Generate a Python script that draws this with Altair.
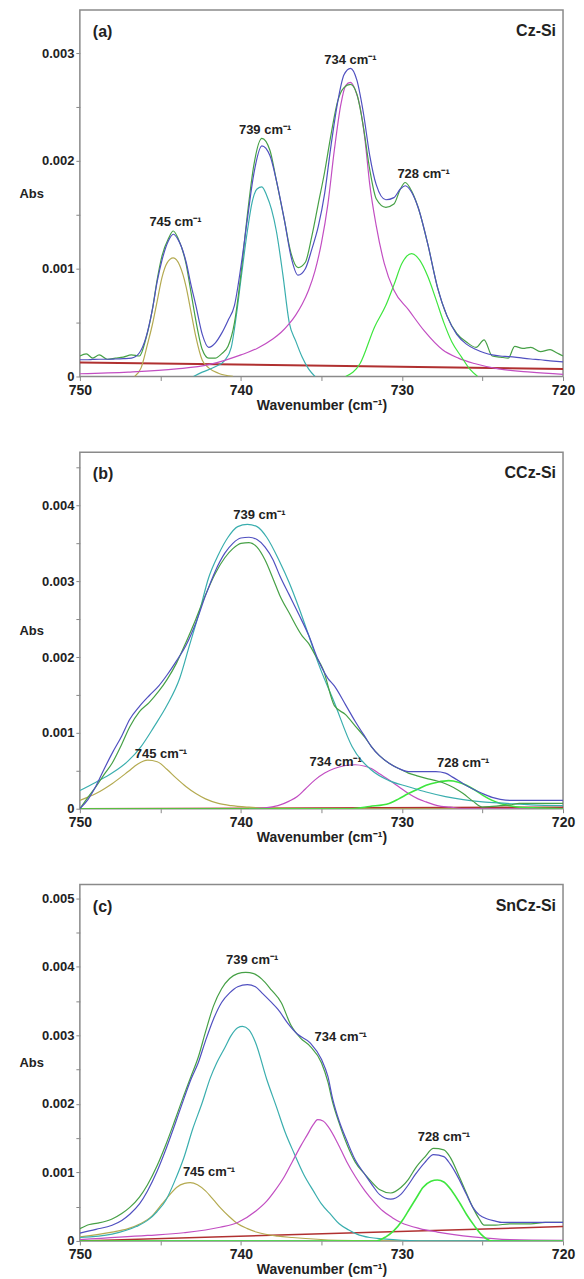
import altair as alt
import pandas as pd

FONT = "Liberation Sans"

# ---------------- Panel (a) Cz-Si ----------------
a_meas_wn = [750, 749.6, 749.2, 748.8, 748.3, 747.8, 747.3, 746.8, 746.3, 745.9, 745.5, 745.2, 744.9, 744.5, 744.2,
             743.9, 743.4, 743.1, 742.8, 742.4, 742.0, 741.6, 741.2, 740.8, 740.4, 740.0, 739.6, 739.2, 738.7, 738.2,
             737.8, 737.3, 736.9, 736.45, 736.0, 735.6, 735.2, 734.8, 734.4, 734.0, 733.6, 733.2, 732.8, 732.4, 732.0,
             731.6, 731.0, 730.5, 730.1, 729.8, 729.4, 729.0, 728.4, 727.8, 727.2, 726.6, 726.0, 725.4, 724.9, 724.4,
             723.9, 723.4, 723.0, 722.5, 722.0, 721.4, 720.8, 720.4, 720]
a_meas = [0.00019, 0.00021, 0.00017, 0.0002, 0.00016, 0.00017, 0.00018, 0.0002, 0.00019, 0.00035, 0.00062, 0.0009,
          0.00112, 0.00128, 0.00135, 0.00128, 0.00104, 0.00078, 0.00052, 0.00025, 0.00017, 0.00017, 0.00021, 0.00028,
          0.0005, 0.00095, 0.0015, 0.00196, 0.00221, 0.0021, 0.00182, 0.00145, 0.00115, 0.00101, 0.00106, 0.0013,
          0.0016, 0.0019, 0.00225, 0.00255, 0.00268, 0.00271, 0.00262, 0.00232, 0.00192, 0.00165, 0.00157, 0.0016,
          0.00174, 0.0018, 0.00172, 0.00157, 0.00123, 0.00083, 0.00056, 0.0004, 0.00032, 0.00027, 0.00034, 0.00019,
          0.00018, 0.00017, 0.00028, 0.00026, 0.00027, 0.00023, 0.00025, 0.00022, 0.00019]
a_fit = [0.000155, 0.000155, 0.000158, 0.00016, 0.00016, 0.000162, 0.000165, 0.00017, 0.00022, 0.00036, 0.00062,
         0.00088, 0.00108, 0.00126, 0.00132, 0.00127, 0.00106, 0.00085, 0.00066, 0.00039, 0.00027, 0.00031, 0.0004,
         0.00052, 0.00066, 0.00102, 0.00146, 0.00188, 0.00214, 0.00205, 0.00182, 0.00145, 0.00112, 0.00094, 0.001,
         0.00118, 0.00139, 0.0017, 0.00215, 0.00254, 0.0028, 0.00286, 0.00275, 0.00245, 0.00205, 0.00178, 0.00164,
         0.00166, 0.00174, 0.00177, 0.00171, 0.00157, 0.00123, 0.00083, 0.00056, 0.00039, 0.0003, 0.00025, 0.00022,
         0.0002, 0.00019, 0.000185, 0.00018, 0.00017, 0.000162, 0.000155, 0.000145, 0.00014, 0.000136]
a_p745_wn = [746.6, 746.2, 745.8, 745.5, 745.2, 744.9, 744.6, 744.2, 743.8, 743.4, 743.1, 742.8, 742.4, 742.0, 741.4, 740.5]
a_p745 = [0, 0.00008, 0.0003, 0.00048, 0.0007, 0.00092, 0.00105, 0.0011, 0.00103, 0.00083, 0.0006, 0.00037, 0.00015,
          0.00008, 0.00003, 0]
a_p739_wn = [742.95, 742.4, 741.6, 741.0, 740.6, 740.3, 740.0, 739.6, 739.3, 739.0, 738.7, 738.4, 738.1, 737.8, 737.4,
             737.0, 736.6, 736.2, 735.8, 735.4]
a_p739 = [0, 0.00004, 0.00009, 0.00015, 0.00027, 0.00055, 0.0009, 0.00135, 0.00162, 0.00174, 0.00176, 0.00168, 0.00155,
          0.00135, 0.00095, 0.0005, 0.00033, 0.00018, 0.00007, 0]
a_p734_wn = [750, 747, 744, 742, 741, 740, 739, 738, 737.5, 737, 736.6, 736.2, 735.8, 735.4, 735.0, 734.6, 734.2,
             733.8, 733.5, 733.2, 732.9, 732.6, 732.3, 732.0, 731.6, 731.1, 730.5, 729.6, 728.6, 727.5, 726.5, 725.5,
             724, 722, 720]
a_p734 = [0.000025, 0.00004, 0.00007, 0.00011, 0.00015, 0.0002, 0.00026, 0.00035, 0.00041, 0.00049, 0.00057, 0.00067,
          0.0008, 0.00098, 0.00124, 0.0016, 0.0021, 0.00252, 0.0027, 0.00273, 0.00266, 0.0025, 0.0022, 0.00178,
          0.0014, 0.00105, 0.0008, 0.00062, 0.00042, 0.00025, 0.00017, 0.00012, 0.00007, 0.00004, 0.00002]
a_p728_wn = [733.5, 732.6, 731.7, 731.0, 730.5, 730.0, 729.4, 728.9, 728.4, 727.9, 727.4, 726.9, 726.3, 725.8, 725.3]
a_p728 = [0, 0.00012, 0.00046, 0.00066, 0.00085, 0.00105, 0.00114, 0.00108, 0.00093, 0.00072, 0.0005, 0.00032,
          0.00018, 0.00007, 0]
a_base_wn = [750, 720]
a_base = [0.00013, 0.00007]
a_lab_wn = [744.06, 738.5, 733.2, 728.66]
a_lab_y = [0.00143, 0.00229, 0.002935, 0.00188]
a_lab_txt = ["745 cm\u207b\u00b9", "739 cm\u207b\u00b9", "734 cm\u207b\u00b9", "728 cm\u207b\u00b9"]

# ---------------- Panel (b) CCz-Si ----------------
b_meas_wn = [750, 749.5, 749.0, 748.5, 748.0, 747.4, 746.9, 746.3, 745.7, 745.1, 744.6, 744.0, 743.4, 742.8, 742.2,
             741.6, 741.0, 740.5, 740.0, 739.5, 739.0, 738.5, 738.0, 737.6, 737.0, 736.2, 735.8, 735.4, 734.9, 734.2,
             733.5, 732.9, 732.3, 731.9, 731.4, 730.8, 730.2, 729.6, 729.0, 728.5, 727.9, 727.3, 726.8, 726.2, 725.6,
             725.0, 724.4, 723.9, 723.3, 722.7, 722.0, 721.0, 720]
b_meas = [0.0, 0.00015, 0.00029, 0.00045, 0.0006, 0.00085, 0.00108, 0.00128, 0.0014, 0.00155, 0.0017, 0.00192, 0.0022,
          0.0025, 0.00282, 0.0031, 0.00331, 0.00343, 0.0035, 0.00351, 0.00345, 0.00328, 0.00303, 0.00282, 0.00258,
          0.00228, 0.00218, 0.00203, 0.00184, 0.00136, 0.00124, 0.00109, 0.00094, 0.00082, 0.0007, 0.0006, 0.00053,
          0.00047, 0.00043, 0.0004, 0.00037, 0.00033, 0.00028, 0.0002, 0.0001, 0.00002, 0.00003, 0.00004, 0.00005,
          0.00007, 0.00007, 0.00007, 0.00007]
b_fit_wn = [750, 749.5, 749.0, 748.5, 748.0, 747.4, 746.9, 746.3, 745.7, 745.1, 744.6, 744.0, 743.4, 742.8, 742.2,
            741.6, 741.0, 740.5, 740.0, 739.5, 739.0, 738.5, 738.0, 737.6, 737.0, 736.4, 735.8, 735.2, 734.6, 734.2,
            733.5, 732.9, 732.3, 731.9, 731.4, 730.8, 730.2, 729.6, 729.0, 728.5, 727.9, 727.3, 726.8, 726.2, 725.6,
            725.0, 724.4, 723.9, 723.3, 722.7, 722.0, 721.0, 720]
b_fit = [0.0, 0.00012, 0.0003, 0.00052, 0.00073, 0.00096, 0.00118, 0.00135, 0.00149, 0.00162, 0.00176, 0.00195,
         0.00216, 0.00245, 0.00281, 0.00313, 0.00337, 0.0035, 0.00357, 0.00358, 0.00355, 0.00345, 0.00328, 0.00308,
         0.00282, 0.00256, 0.00229, 0.00196, 0.00172, 0.00162, 0.00137, 0.00115, 0.00095, 0.00082, 0.0007, 0.0006,
         0.00053, 0.00049, 0.00049, 0.00049, 0.00049, 0.00047, 0.00041, 0.00033, 0.00026, 0.0002, 0.00015, 0.000124,
         0.00011, 0.00011, 0.00011, 0.00011, 0.00011]
b_p739_wn = [750, 749, 748, 747, 746.2, 745.4, 744.6, 743.8, 743.2, 742.6, 742.0, 741.4, 740.8, 740.2, 739.6, 739.0,
             738.4, 737.6, 737.0, 736.4, 735.8, 735.2, 734.2, 733.1, 731.9, 730.8, 729.6, 728.5, 727.3, 726.2, 725.0,
             723.5, 722, 720]
b_p739 = [0.00024, 0.00035, 0.00047, 0.00063, 0.00082, 0.00108, 0.00136, 0.00172, 0.00215, 0.00258, 0.00305, 0.00335,
          0.00358, 0.00372, 0.00375, 0.00372, 0.00358, 0.00326, 0.00298, 0.00265, 0.00229, 0.00192, 0.0014, 0.00082,
          0.00051, 0.00037, 0.00029, 0.00022, 0.00016, 0.00012, 0.00009, 0.00007, 0.00005, 0.00004]
b_p745_wn = [750, 749, 748, 747, 746.4, 745.8, 745.2, 744.6, 744.0, 743.4, 742.8, 742.2, 741.4, 740.6, 739.5, 738.5,
             736, 730, 720]
b_p745 = [0.00011, 0.0002, 0.00033, 0.00049, 0.00059, 0.00064, 0.00062, 0.00052, 0.0004, 0.00029, 0.0002, 0.00013,
          0.00007, 0.00004, 0.00002, 0.00001, 0.0, 0.0, 0.0]
b_p734_wn = [739.5, 738.5, 737.7, 737.0, 736.5, 736.0, 735.4, 734.8, 734.2, 733.5, 732.9, 732.3, 731.9, 731.4, 730.8,
             730.2, 729.6, 729.0, 728.5, 727.8, 727.0, 726.0, 723, 720]
b_p734 = [0, 0.00001, 0.00004, 0.0001, 0.00016, 0.00026, 0.00038, 0.00047, 0.00053, 0.00057, 0.00058, 0.00056,
          0.00053, 0.00046, 0.00038, 0.00029, 0.0002, 0.00013, 0.00009, 0.00004, 0.00002, 0.0, 0, 0]
b_p728_wn = [750, 740, 735, 733.1, 732, 730.8, 730.2, 729.6, 729.0, 728.5, 727.8, 727.1, 726.5, 726.0, 725.5, 725.0,
             724.4, 723.9, 723.3, 722.7, 721.5, 720]
b_p728 = [0, 0, 0, 0, 0.00003, 0.00007, 0.00013, 0.0002, 0.00026, 0.00031, 0.00035, 0.00037, 0.00035, 0.00031,
          0.00025, 0.00018, 0.00011, 0.00007, 0.00004, 0.00002, 0.00001, 0.0]
b_base_wn = [750, 720]
b_base = [0.0, 0.00002]
b_lab_wn = [738.85, 744.97, 734.12, 726.2]
b_lab_y = [0.003874, 0.000724, 0.000622, 0.0006]
b_lab_txt = ["739 cm\u207b\u00b9", "745 cm\u207b\u00b9", "734 cm\u207b\u00b9", "728 cm\u207b\u00b9"]

# ---------------- Panel (c) SnCz-Si ----------------
c_meas_wn = [750, 749.4, 748.9, 748.0, 747.4, 746.9, 746.3, 745.8, 745.2, 744.67, 744.1, 743.55, 743.1, 742.65,
             742.2, 741.7, 741.2, 740.7, 740.2, 739.7, 739.2, 738.7, 738.1, 737.5, 736.9, 736.3, 735.7, 735.0, 734.6,
             734.3, 733.9, 733.4, 732.9, 732.3, 731.8, 731.4, 730.7, 730.07, 729.6, 729.17, 728.6, 728.04, 727.4,
             727.0, 726.5, 726.0, 725.6, 725.2, 724.9, 724.2, 723.3, 722.5, 722.0, 721.1, 720.5, 720]
c_meas = [0.00018, 0.00024, 0.00026, 0.00032, 0.0004, 0.00049, 0.00064, 0.00082, 0.0011, 0.0014, 0.00176, 0.00212,
          0.0024, 0.00268, 0.00305, 0.00343, 0.00368, 0.00383, 0.0039, 0.00392, 0.0039, 0.00382, 0.00366, 0.00348,
          0.00315, 0.00296, 0.00284, 0.0026, 0.00232, 0.00202, 0.00172, 0.0014, 0.00115, 0.00097, 0.00084, 0.00075,
          0.0007, 0.00078, 0.0009, 0.00106, 0.00122, 0.00135, 0.00133, 0.00122, 0.00097, 0.0007, 0.00049, 0.00032,
          0.00023, 0.00023, 0.00025, 0.00025, 0.00025, 0.00027, 0.00027, 0.00027]
c_fit_wn = [750, 749, 748, 747.4, 746.9, 746.3, 745.8, 745.2, 744.67, 744.1, 743.55, 743.1, 742.65, 742.2, 741.7,
            741.2, 740.7, 740.2, 739.6, 739.1, 738.7, 738.1, 737.7, 737.1, 736.5, 735.7, 735.0, 734.6, 734.3, 733.9,
            733.4, 732.9, 732.3, 731.8, 731.4, 730.7, 730.07, 729.6, 729.17, 728.6, 728.04, 727.4, 727.0, 726.5,
            726.0, 725.6, 725.2, 724.7, 724.2, 723.8, 723, 722, 721, 720]
c_fit = [0.000115, 0.00017, 0.00023, 0.0003, 0.00039, 0.00054, 0.00073, 0.00102, 0.00133, 0.0017, 0.00207, 0.00236,
         0.0026, 0.00292, 0.00324, 0.00348, 0.00362, 0.00371, 0.00374, 0.00371, 0.00362, 0.00348, 0.00338, 0.00318,
         0.00302, 0.00289, 0.00265, 0.0024, 0.00207, 0.00175, 0.00145, 0.00118, 0.00097, 0.0008, 0.00068, 0.00061,
         0.00068, 0.00082, 0.00097, 0.00114, 0.00126, 0.00123, 0.00112, 0.00092, 0.00068, 0.00049, 0.00038, 0.00032,
         0.00029, 0.00027, 0.00027, 0.00027, 0.00027, 0.00027]
c_p739_wn = [750, 748, 746.5, 745.8, 745.2, 744.67, 744.1, 743.55, 743.0, 742.4, 741.9, 741.5, 741.0, 740.6, 740.2,
             739.9, 739.5, 739.1, 738.4, 737.8, 737.26, 736.7, 736.1, 735.5, 735.0, 734.4, 733.9, 733.3, 732.8, 732.0,
             731.2, 730, 728, 725, 720]
c_p739 = [0.00005, 0.0001, 0.00021, 0.0003, 0.00043, 0.00059, 0.00088, 0.00121, 0.00163, 0.00202, 0.00238, 0.0026,
          0.00282, 0.003, 0.00311, 0.00313, 0.00308, 0.0029, 0.00236, 0.00196, 0.00159, 0.00128, 0.00097, 0.00073,
          0.00054, 0.00038, 0.00025, 0.00016, 0.0001, 0.00005, 0.00003, 0.00001, 0.0, 0.0, 0.0]
c_p745_wn = [750, 748, 747, 746.25, 745.5, 744.9, 744.4, 744.0, 743.5, 743.15, 742.7, 742.2, 741.7, 741.3, 740.7,
             740.2, 739.6, 739.05, 737.7, 736.8, 734, 730, 720]
c_p745 = [0.00006, 0.00013, 0.00018, 0.00025, 0.00037, 0.00054, 0.00068, 0.00078, 0.00084, 0.00085, 0.00082,
          0.00073, 0.0006, 0.00049, 0.00035, 0.00025, 0.00018, 0.00013, 0.00007, 0.00005, 0.00001, 0, 0]
c_p734_wn = [750, 745.8, 743.55, 741.3, 740.2, 739.05, 738.4, 737.9, 737.3, 736.8, 736.3, 735.9, 735.5, 735.24,
             734.9, 734.56, 734.0, 733.44, 732.9, 732.3, 731.7, 731.2, 730.6, 730.07, 728.9, 727.8, 725.6, 723.3, 720]
c_p734 = [0.00002, 0.00008, 0.00012, 0.0002, 0.00027, 0.00044, 0.00058, 0.00073, 0.00094, 0.00116, 0.00138, 0.00154,
          0.0017, 0.00177, 0.00175, 0.00166, 0.00143, 0.00116, 0.00094, 0.00073, 0.00056, 0.00044, 0.00034, 0.00027,
          0.00018, 0.00013, 0.00006, 0.00002, 0.00001]
c_p728_wn = [750, 740, 733, 731.6, 731.0, 730.5, 730.0, 729.6, 729.1, 728.7, 728.2, 727.8, 727.4, 726.9, 726.4,
             726.0, 725.5, 725.1, 724.4, 722, 720]
c_p728 = [0, 0, 0, 0, 0.00006, 0.00015, 0.00029, 0.00044, 0.00063, 0.00078, 0.00087, 0.00089, 0.00086, 0.00073,
          0.00055, 0.00039, 0.00022, 0.0001, 0.0, 0, 0]
c_base_wn = [750, 720]
c_base = [0.0, 0.00021]
c_lab_wn = [739.3, 733.8, 741.98, 727.4]
c_lab_y = [0.0041, 0.00298, 0.001, 0.00151]
c_lab_txt = ["739 cm\u207b\u00b9", "734 cm\u207b\u00b9", "745 cm\u207b\u00b9", "728 cm\u207b\u00b9"]

X_TICKS = [750, 745, 740, 735, 730, 725, 720]

COL_MEAS = "#46a046"
COL_FIT = "#5050c0"
COL_739 = "#3aaeae"
COL_745 = "#b4aa50"
COL_734 = "#c24ec2"
COL_728 = "#3ee63e"
COL_BASE = "#b03030"


def make_panel(curves, lab_wn, lab_y, lab_txt, tag, sample, ymax, width, height):
    yvals = []
    v = 0
    while v <= ymax + 1e-9:
        yvals.append(round(v, 4))
        v += 0.0005
    xenc = alt.X(
        "wn:Q",
        scale=alt.Scale(domain=[750, 720], nice=False, zero=False),
        axis=alt.Axis(
            values=X_TICKS, format="d",
            labelExpr="datum.value % 10 == 0 ? datum.label : ''",
            title="Wavenumber (cm\u207b\u00b9)", titleFont=FONT, titleFontSize=14, titleFontWeight="bold",
            titleColor="#222", titlePadding=1,
            labelFont=FONT, labelFontSize=14, labelFontWeight="bold", labelColor="#222", labelPadding=3,
            labelOverlap=False, labelFlush=False,
            tickSize=4, tickColor="#888", domain=False, grid=False,
        ),
    )
    yenc = alt.Y(
        "ab:Q",
        scale=alt.Scale(domain=[0, ymax], nice=False, zero=True),
        axis=alt.Axis(
            values=yvals,
            labelExpr="datum.value == 0 ? '0' : (abs(datum.value*1000 - round(datum.value*1000)) < 1e-6 ? format(datum.value, '.3f') : '')",
            title="Abs", titleAngle=0, titleAlign="left", titleBaseline="middle",
            titleX=-61, titleY=height / 2, titleFont=FONT, titleFontSize=13, titleFontWeight="bold", titleColor="#222",
            labelFont=FONT, labelFontSize=13, labelFontWeight="bold", labelColor="#222", labelPadding=2,
            labelOverlap=False, tickSize=4, tickColor="#888", domain=False, grid=False,
        ),
    )
    layers = []
    for wn, ab, color, sw in curves:
        df = pd.DataFrame({"wn": wn, "ab": ab})
        layers.append(
            alt.Chart(df).mark_line(color=color, strokeWidth=sw, interpolate="monotone", clip=True)
            .encode(x=xenc, y=yenc)
        )
    ldf = pd.DataFrame({"wn": lab_wn, "ab": lab_y, "t": lab_txt})
    layers.append(
        alt.Chart(ldf).mark_text(font=FONT, fontSize=13, fontWeight="bold", color="#222", align="center",
                                 baseline="middle")
        .encode(x=xenc, y=yenc, text="t:N")
    )
    tdf = pd.DataFrame({"t": [tag]})
    layers.append(
        alt.Chart(tdf).mark_text(font=FONT, fontSize=16, fontWeight="bold", color="#222", align="left",
                                 baseline="middle")
        .encode(x=alt.value(13), y=alt.value(22), text="t:N")
    )
    sdf = pd.DataFrame({"t": [sample]})
    layers.append(
        alt.Chart(sdf).mark_text(font=FONT, fontSize=16, fontWeight="bold", color="#222", align="right",
                                 baseline="middle")
        .encode(x=alt.value(width - 7), y=alt.value(21), text="t:N")
    )
    return alt.layer(*layers).properties(width=width, height=height)


panel_a = make_panel(
    [(a_base_wn, a_base, COL_BASE, 2.0), (a_p745_wn, a_p745, COL_745, 1.2), (a_p739_wn, a_p739, COL_739, 1.2),
     (a_p734_wn, a_p734, COL_734, 1.2), (a_p728_wn, a_p728, COL_728, 1.2), (a_meas_wn, a_meas, COL_MEAS, 1.2),
     (a_meas_wn, a_fit, COL_FIT, 1.2)],
    a_lab_wn, a_lab_y, a_lab_txt, "(a)", "Cz-Si", 0.0034, 484, 367)

panel_b = make_panel(
    [(b_base_wn, b_base, COL_BASE, 1.5), (b_p745_wn, b_p745, COL_745, 1.2), (b_p734_wn, b_p734, COL_734, 1.2),
     (b_p728_wn, b_p728, COL_728, 1.6), (b_p739_wn, b_p739, COL_739, 1.2), (b_meas_wn, b_meas, COL_MEAS, 1.2),
     (b_fit_wn, b_fit, COL_FIT, 1.2)],
    b_lab_wn, b_lab_y, b_lab_txt, "(b)", "CCz-Si", 0.0047, 484, 357)

panel_c = make_panel(
    [(c_base_wn, c_base, COL_BASE, 1.5), (c_p745_wn, c_p745, COL_745, 1.2), (c_p739_wn, c_p739, COL_739, 1.2),
     (c_p734_wn, c_p734, COL_734, 1.2), (c_p728_wn, c_p728, COL_728, 1.6), (c_meas_wn, c_meas, COL_MEAS, 1.2),
     (c_fit_wn, c_fit, COL_FIT, 1.2)],
    c_lab_wn, c_lab_y, c_lab_txt, "(c)", "SnCz-Si", 0.0052, 484, 357)

chart = (
    alt.vconcat(panel_a, panel_b, panel_c, spacing=38)
    .properties(padding={"left": 10, "top": 0, "right": 0, "bottom": 0}, background="white")
    .configure_view(stroke="#8a8a8a", strokeWidth=1.5)
)

chart.save("out.html", embed_options={"renderer": "svg", "actions": False})
